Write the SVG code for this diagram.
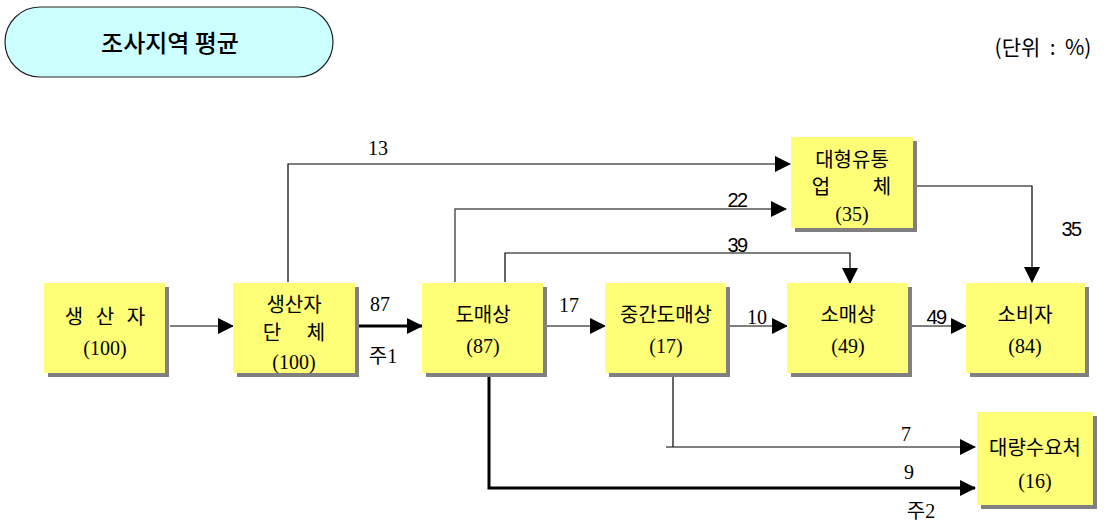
<svg xmlns="http://www.w3.org/2000/svg" width="1110" height="522" viewBox="0 0 1110 522">
<defs>
<style>
.box{fill:#FFFF77;}
.sh{fill:#808080;}
.t{font-family:"Liberation Serif","Noto Sans CJK KR",serif;font-size:20px;fill:#000;text-anchor:middle;}
.n{font-family:"Liberation Serif","Noto Sans CJK KR",serif;font-size:20px;fill:#000;text-anchor:middle;}
.ns{font-family:"Liberation Sans","Noto Sans CJK KR",sans-serif;font-size:20px;fill:#000;text-anchor:middle;letter-spacing:-1.5px;}
.ln{fill:none;stroke:#000;stroke-width:1.2;}
.lg{fill:none;stroke:#555;stroke-width:1.5;}
.th{fill:none;stroke:#000;stroke-width:3;}
</style>
<marker id="a" markerUnits="userSpaceOnUse" markerWidth="16" markerHeight="16" viewBox="0 0 16 16" refX="15" refY="8" orient="auto">
<path d="M0,0 L16,8 L0,16 Z" fill="#000"/>
</marker>
</defs>
<rect width="1110" height="522" fill="#fff"/>
<g id="title">
<rect x="5" y="7" width="328" height="70" rx="35" ry="35" fill="#CCFFFF" stroke="#222" stroke-width="1.2"/>
<text x="170" y="52" style="font-family:'Noto Sans CJK KR',sans-serif;font-size:24px;font-weight:500;text-anchor:middle;">조사지역 평균</text>
</g>
<text id="unit" x="1043" y="55" xml:space="preserve" style="font-family:'Noto Sans CJK KR',sans-serif;font-size:21px;text-anchor:middle;">(단위  :  %)</text>
<g id="connectors">
<line class="ln" x1="170" y1="326" x2="233" y2="326" marker-end="url(#a)"/>
<line class="th" x1="359" y1="326" x2="422" y2="326" marker-end="url(#a)"/>
<line class="ln" x1="547" y1="326" x2="605" y2="326" marker-end="url(#a)"/>
<line class="ln" x1="730" y1="326" x2="787" y2="326" marker-end="url(#a)"/>
<line class="ln" x1="912" y1="326" x2="966" y2="326" marker-end="url(#a)"/>
<polyline class="ln" points="288,282 288,164 790,164" marker-end="url(#a)"/>
<polyline class="lg" points="455,282 455,209 786,209" marker-end="url(#a)"/>
<polyline class="ln" points="505,282 505,253 850,253 850,283" marker-end="url(#a)"/>
<polyline class="ln" points="917,186 1032,186 1032,282" marker-end="url(#a)"/>
<polyline class="ln" points="673,377 673,447"/>
<line class="ln" x1="666" y1="447" x2="975" y2="447" marker-end="url(#a)"/>
<polyline class="th" points="489,377 489,488 975,488" marker-end="url(#a)"/>
<text class="n" x="380" y="311">87</text>
<text class="t" x="383" y="363">주1</text>
<text class="n" x="569" y="312">17</text>
<text class="n" x="757" y="324">10</text>
<text class="ns" x="936" y="324">49</text>
<text class="n" x="378" y="155">13</text>
<text class="ns" x="737" y="207">22</text>
<text class="ns" x="737" y="252">39</text>
<text class="ns" x="1071" y="236">35</text>
<text class="n" x="906" y="441">7</text>
<text class="n" x="909" y="479">9</text>
<text class="t" x="921" y="518">주2</text>
</g>
<g id="producer">
<rect class="sh" x="48" y="287" width="121" height="90"/>
<rect class="box" x="44" y="283" width="121" height="90"/>
<text class="t" x="74" y="324">생</text>
<text class="t" x="105" y="324">산</text>
<text class="t" x="136" y="324">자</text>
<text class="t" x="105" y="355">(100)</text>
</g>
<g id="producer-org">
<rect class="sh" x="237" y="287" width="122" height="90"/>
<rect class="box" x="233" y="283" width="122" height="90"/>
<text class="t" x="294" y="312">생산자</text>
<text class="t" x="272" y="340">단</text>
<text class="t" x="316" y="340">체</text>
<text class="t" x="294" y="369">(100)</text>
</g>
<g id="wholesaler">
<rect class="sh" x="426" y="287" width="121" height="90"/>
<rect class="box" x="422" y="283" width="121" height="90"/>
<text class="t" x="483" y="322">도매상</text>
<text class="t" x="483" y="353">(87)</text>
</g>
<g id="mid-wholesaler">
<rect class="sh" x="609" y="287" width="121" height="90"/>
<rect class="box" x="605" y="283" width="121" height="90"/>
<text class="t" x="666" y="322">중간도매상</text>
<text class="t" x="666" y="353">(17)</text>
</g>
<g id="retailer">
<rect class="sh" x="791" y="287" width="121" height="90"/>
<rect class="box" x="787" y="283" width="121" height="90"/>
<text class="t" x="848" y="322">소매상</text>
<text class="t" x="848" y="353">(49)</text>
</g>
<g id="consumer">
<rect class="sh" x="970" y="287" width="119" height="90"/>
<rect class="box" x="966" y="283" width="119" height="90"/>
<text class="t" x="1025" y="322">소비자</text>
<text class="t" x="1025" y="353">(84)</text>
</g>
<g id="large-retailer">
<rect class="sh" x="795" y="141" width="122" height="91"/>
<rect class="box" x="791" y="137" width="122" height="91"/>
<text class="t" x="852" y="167">대형유통</text>
<text class="t" x="821" y="194">업</text>
<text class="t" x="882" y="194">체</text>
<text class="t" x="852" y="221">(35)</text>
</g>
<g id="bulk-buyer">
<rect class="sh" x="981" y="416" width="116" height="93"/>
<rect class="box" x="977" y="412" width="116" height="93"/>
<text class="t" x="1035" y="455">대량수요처</text>
<text class="t" x="1035" y="488">(16)</text>
</g>
</svg>
